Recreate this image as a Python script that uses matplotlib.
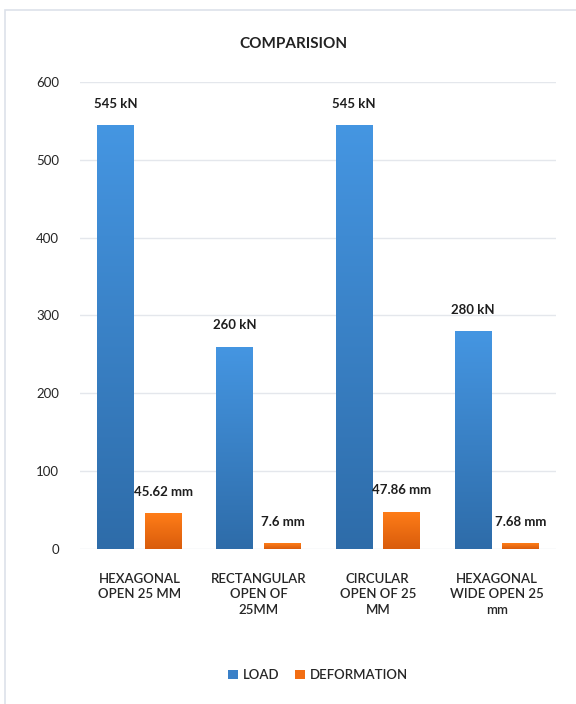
import numpy as np
import matplotlib.pyplot as plt
from matplotlib.colors import LinearSegmentedColormap

# chart data
categories = ['HEXAGONAL\nOPEN 25 MM', 'RECTANGULAR\nOPEN OF\n25MM',
              'CIRCULAR\nOPEN OF 25\nMM', 'HEXAGONAL\nWIDE OPEN 25\nmm']
load = [545, 260, 545, 280]
deformation = [45.62, 7.6, 47.86, 7.68]
load_labels = ['545 kN', '260 kN', '545 kN', '280 kN']
def_labels = ['45.62 mm', '7.6 mm', '47.86 mm', '7.68 mm']
series_names = ['LOAD', 'DEFORMATION']

plt.rcParams['font.family'] = ['Lato', 'DejaVu Sans']

fig = plt.figure(figsize=(5.76, 7.04), dpi=100)
ax = fig.add_axes([0.139, 0.2202, 0.827, 0.6633])

x = np.arange(len(categories))
w = 0.31
blue_cmap = LinearSegmentedColormap.from_list('b', ['#2E6CA9', '#4596E2'])
orange_cmap = LinearSegmentedColormap.from_list('o', ['#D95C0C', '#FF7D18'])

b1 = ax.bar(x - 0.2, load, w, color='#3A80C8', label=series_names[0], zorder=2)
b2 = ax.bar(x + 0.2, deformation, w, color='#F26D12', label=series_names[1], zorder=2)

# gradient fill, clipped to each bar
grad = np.linspace(0, 1, 256).reshape(-1, 1)
for bars, cmap in [(b1, blue_cmap), (b2, orange_cmap)]:
    for p in bars:
        x0, y0 = p.get_x(), p.get_y()
        im = ax.imshow(grad, cmap=cmap, origin='lower', aspect='auto',
                       extent=[x0, x0 + p.get_width(), y0, y0 + p.get_height()],
                       zorder=2.5)
        im.set_clip_path(p)

for bars, labs in [(b1, load_labels), (b2, def_labels)]:
    for p, t in zip(bars, labs):
        ax.annotate(t, (p.get_x() + p.get_width() / 2, p.get_height()),
                    xytext=(0, 11), textcoords='offset points', ha='center',
                    va='bottom', fontsize=9.5, fontweight='bold', color='#1E1E1E',
                    zorder=4)

ax.set_xlim(-0.5, 3.5)
ax.set_ylim(0, 600)
ax.set_yticks(range(0, 601, 100))
ax.set_xticks(x)
ax.set_xticklabels(categories, fontsize=9.5, color='#262626', linespacing=1.35,
                   fontweight='semibold')
ax.tick_params(axis='y', labelsize=9.5, labelcolor='#262626', length=0, pad=15)
ax.tick_params(axis='x', length=0, pad=17)
ax.grid(axis='y', color='#E4E7EC', linewidth=1, zorder=0)
ax.set_axisbelow(True)
for s in ax.spines.values():
    s.set_visible(False)

fig.text(0.51, 0.938, 'COMPARISION', ha='center', va='center',
         fontsize=11, fontweight='bold', color='#222222')

leg = ax.legend(loc='center', bbox_to_anchor=(0.5, -0.27), ncol=2, frameon=False,
                fontsize=9.5, handlelength=0.7, handleheight=0.7,
                columnspacing=1.2, handletextpad=0.4,
                prop={'weight': 'semibold', 'size': 9.5})
for t in leg.get_texts():
    t.set_color('#262626')

# light border (top and left edges visible) around the chart area
fig.add_artist(plt.Rectangle((0.009, -0.1), 1.2, 1.086, transform=fig.transFigure,
                             fill=False, edgecolor='#DDE2EA', linewidth=1.2))

fig.savefig('out.png', dpi=100)
